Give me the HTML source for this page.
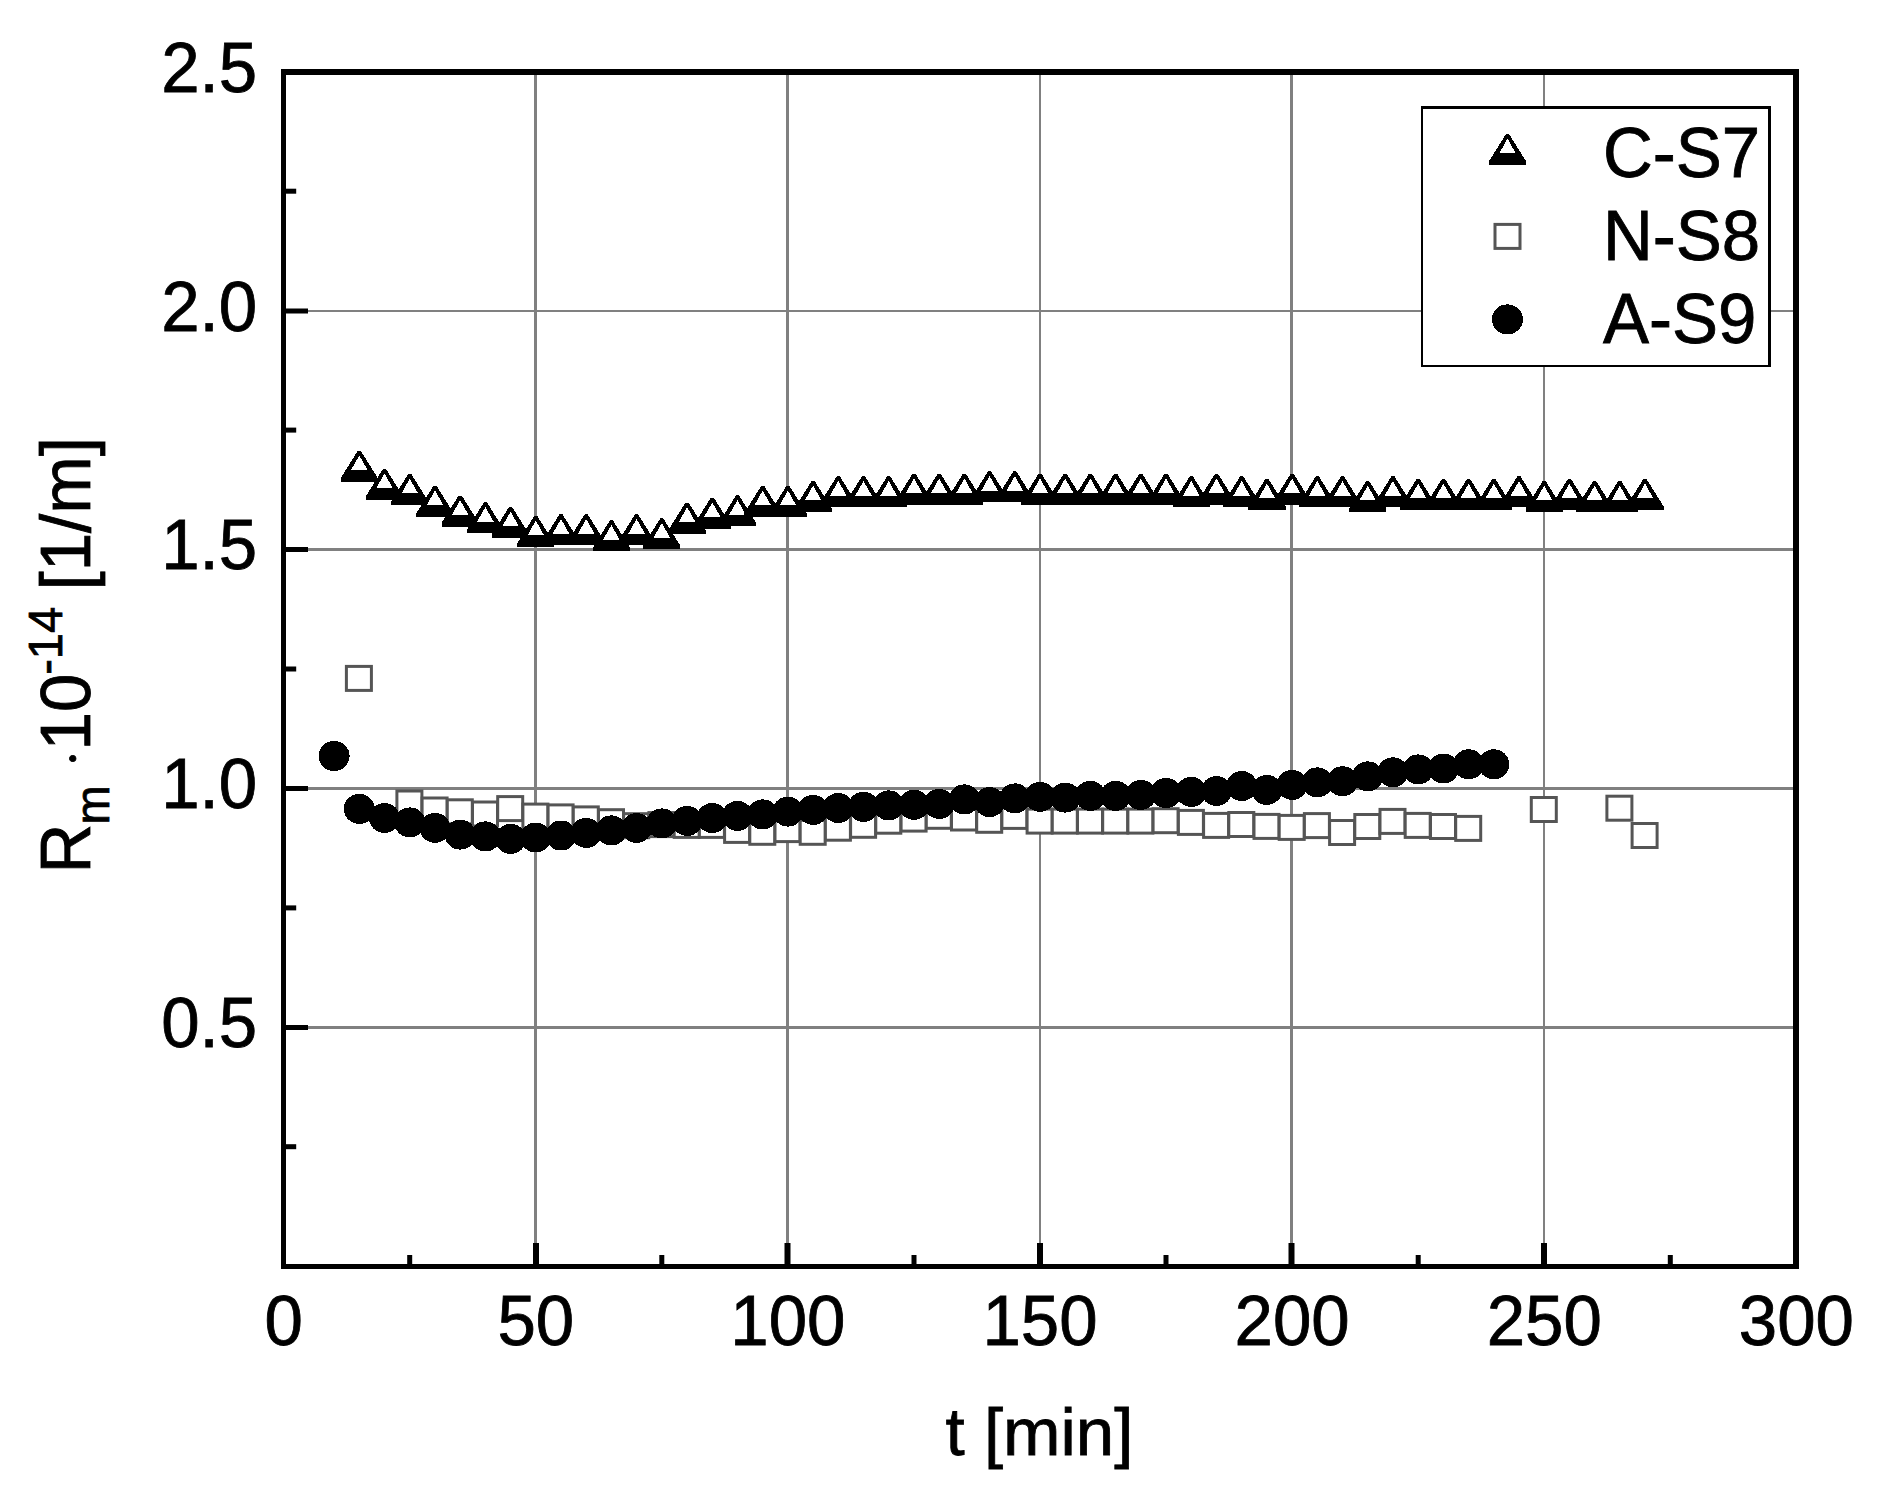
<!DOCTYPE html>
<html lang="en">
<head>
<meta charset="utf-8">
<title>Rm vs t</title>
<style>
html,body{margin:0;padding:0;background:#fff;}
body{width:1885px;height:1493px;overflow:hidden;}
svg{display:block;}
.t text, text{font-family:"Liberation Sans",Arial,Helvetica,sans-serif;font-size:69px;fill:#000;stroke:#000;stroke-width:0.8px;}
text.s,tspan.s{font-size:47px;}
text.d,tspan.d{font-family:"Liberation Serif",serif;font-size:54px;}
.tk{fill:#000;shape-rendering:crispEdges;}
.tw{fill:#fff;shape-rendering:crispEdges;}
.sq{fill:#fff;stroke:#555555;stroke-width:3;}
.ci{fill:#000;shape-rendering:crispEdges;}
</style>
</head>
<body>
<svg width="1885" height="1493" viewBox="0 0 1885 1493">
<rect x="0" y="0" width="1885" height="1493" fill="#fff"/>
<g fill="#808080"><rect x="534" y="72" width="3" height="1194"/><rect x="786" y="72" width="3" height="1194"/><rect x="1039" y="72" width="2" height="1194"/><rect x="1290" y="72" width="3" height="1194"/><rect x="1543" y="72" width="2" height="1194"/><rect x="284" y="1026" width="1512" height="3"/><rect x="284" y="787" width="1512" height="3"/><rect x="284" y="548" width="1512" height="3"/><rect x="284" y="310" width="1512" height="2"/></g>
<g><polygon class="tk" points="357.8,450.8 360.8,450.8 377.9,478.2 377.9,481.8 340.7,481.8 340.7,478.2"/><polygon class="tw" points="359.3,455.5 367.5,470 351.1,470"/><polygon class="tk" points="383,468.9 386,468.9 403.1,496.3 403.1,499.9 365.9,499.9 365.9,496.3"/><polygon class="tw" points="384.5,473.6 392.7,488.1 376.3,488.1"/><polygon class="tk" points="408.2,474 411.2,474 428.4,501.4 428.4,505 391.1,505 391.1,501.4"/><polygon class="tw" points="409.8,478.7 417.9,493.2 401.6,493.2"/><polygon class="tk" points="433.5,485.8 436.5,485.8 453.6,513.2 453.6,516.8 416.4,516.8 416.4,513.2"/><polygon class="tw" points="435,490.5 443.2,505 426.8,505"/><polygon class="tk" points="458.7,495.5 461.7,495.5 478.8,522.9 478.8,526.5 441.6,526.5 441.6,522.9"/><polygon class="tw" points="460.2,500.2 468.4,514.7 452,514.7"/><polygon class="tk" points="483.9,502.3 486.9,502.3 504,529.7 504,533.3 466.8,533.3 466.8,529.7"/><polygon class="tw" points="485.4,507 493.6,521.5 477.2,521.5"/><polygon class="tk" points="509.1,506.9 512.1,506.9 529.2,534.3 529.2,537.9 492,537.9 492,534.3"/><polygon class="tw" points="510.6,511.6 518.8,526.1 502.4,526.1"/><polygon class="tk" points="534.3,516 537.3,516 554.4,543.4 554.4,547 517.2,547 517.2,543.4"/><polygon class="tw" points="535.8,520.7 544,535.2 527.6,535.2"/><polygon class="tk" points="559.5,514.3 562.5,514.3 579.6,541.7 579.6,545.3 542.4,545.3 542.4,541.7"/><polygon class="tw" points="561,519 569.2,533.5 552.8,533.5"/><polygon class="tk" points="584.7,514.3 587.7,514.3 604.8,541.7 604.8,545.3 567.6,545.3 567.6,541.7"/><polygon class="tw" points="586.2,519 594.4,533.5 578,533.5"/><polygon class="tk" points="609.9,520.4 612.9,520.4 630,547.8 630,551.4 592.8,551.4 592.8,547.8"/><polygon class="tw" points="611.4,525.1 619.6,539.6 603.2,539.6"/><polygon class="tk" points="635.1,514.3 638.1,514.3 655.2,541.7 655.2,545.3 618,545.3 618,541.7"/><polygon class="tw" points="636.6,519 644.8,533.5 628.4,533.5"/><polygon class="tk" points="660.3,518.4 663.3,518.4 680.4,545.8 680.4,549.4 643.2,549.4 643.2,545.8"/><polygon class="tw" points="661.8,523.1 670,537.6 653.6,537.6"/><polygon class="tk" points="685.6,502.5 688.6,502.5 705.7,529.9 705.7,533.5 668.5,533.5 668.5,529.9"/><polygon class="tw" points="687.1,507.2 695.3,521.7 678.9,521.7"/><polygon class="tk" points="710.8,497.7 713.8,497.7 730.9,525.1 730.9,528.7 693.7,528.7 693.7,525.1"/><polygon class="tw" points="712.3,502.4 720.5,516.9 704.1,516.9"/><polygon class="tk" points="736,495.4 739,495.4 756.1,522.8 756.1,526.4 718.9,526.4 718.9,522.8"/><polygon class="tw" points="737.5,500.1 745.7,514.6 729.3,514.6"/><polygon class="tk" points="761.2,485.9 764.2,485.9 781.3,513.3 781.3,516.9 744.1,516.9 744.1,513.3"/><polygon class="tw" points="762.7,490.6 770.9,505.1 754.5,505.1"/><polygon class="tk" points="786.4,485.9 789.4,485.9 806.5,513.3 806.5,516.9 769.3,516.9 769.3,513.3"/><polygon class="tw" points="787.9,490.6 796.1,505.1 779.7,505.1"/><polygon class="tk" points="811.6,481 814.6,481 831.7,508.4 831.7,512 794.5,512 794.5,508.4"/><polygon class="tw" points="813.1,485.7 821.3,500.2 804.9,500.2"/><polygon class="tk" points="836.8,476.3 839.8,476.3 856.9,503.7 856.9,507.3 819.7,507.3 819.7,503.7"/><polygon class="tw" points="838.3,481 846.5,495.5 830.1,495.5"/><polygon class="tk" points="862,476.3 865,476.3 882.1,503.7 882.1,507.3 844.9,507.3 844.9,503.7"/><polygon class="tw" points="863.5,481 871.7,495.5 855.3,495.5"/><polygon class="tk" points="887.2,476.3 890.2,476.3 907.3,503.7 907.3,507.3 870.1,507.3 870.1,503.7"/><polygon class="tw" points="888.7,481 896.9,495.5 880.5,495.5"/><polygon class="tk" points="912.5,473.8 915.5,473.8 932.6,501.2 932.6,504.8 895.4,504.8 895.4,501.2"/><polygon class="tw" points="914,478.5 922.2,493 905.8,493"/><polygon class="tk" points="937.7,473.8 940.7,473.8 957.8,501.2 957.8,504.8 920.6,504.8 920.6,501.2"/><polygon class="tw" points="939.2,478.5 947.4,493 931,493"/><polygon class="tk" points="962.9,473.8 965.9,473.8 983,501.2 983,504.8 945.8,504.8 945.8,501.2"/><polygon class="tw" points="964.4,478.5 972.6,493 956.2,493"/><polygon class="tk" points="988.1,471.3 991.1,471.3 1008.2,498.7 1008.2,502.3 971,502.3 971,498.7"/><polygon class="tw" points="989.6,476 997.8,490.5 981.4,490.5"/><polygon class="tk" points="1013.3,471.3 1016.3,471.3 1033.4,498.7 1033.4,502.3 996.2,502.3 996.2,498.7"/><polygon class="tw" points="1014.8,476 1023,490.5 1006.6,490.5"/><polygon class="tk" points="1038.5,473.8 1041.5,473.8 1058.6,501.2 1058.6,504.8 1021.4,504.8 1021.4,501.2"/><polygon class="tw" points="1040,478.5 1048.2,493 1031.8,493"/><polygon class="tk" points="1063.7,473.8 1066.7,473.8 1083.8,501.2 1083.8,504.8 1046.6,504.8 1046.6,501.2"/><polygon class="tw" points="1065.2,478.5 1073.4,493 1057,493"/><polygon class="tk" points="1088.9,473.8 1091.9,473.8 1109,501.2 1109,504.8 1071.8,504.8 1071.8,501.2"/><polygon class="tw" points="1090.4,478.5 1098.6,493 1082.2,493"/><polygon class="tk" points="1114.1,473.8 1117.1,473.8 1134.2,501.2 1134.2,504.8 1097,504.8 1097,501.2"/><polygon class="tw" points="1115.6,478.5 1123.8,493 1107.4,493"/><polygon class="tk" points="1139.3,473.8 1142.3,473.8 1159.4,501.2 1159.4,504.8 1122.2,504.8 1122.2,501.2"/><polygon class="tw" points="1140.8,478.5 1149,493 1132.6,493"/><polygon class="tk" points="1164.5,473.8 1167.5,473.8 1184.6,501.2 1184.6,504.8 1147.5,504.8 1147.5,501.2"/><polygon class="tw" points="1166,478.5 1174.2,493 1157.8,493"/><polygon class="tk" points="1189.8,476.3 1192.8,476.3 1209.9,503.7 1209.9,507.3 1172.7,507.3 1172.7,503.7"/><polygon class="tw" points="1191.3,481 1199.5,495.5 1183.1,495.5"/><polygon class="tk" points="1215,473.8 1218,473.8 1235.1,501.2 1235.1,504.8 1197.9,504.8 1197.9,501.2"/><polygon class="tw" points="1216.5,478.5 1224.7,493 1208.3,493"/><polygon class="tk" points="1240.2,476.3 1243.2,476.3 1260.3,503.7 1260.3,507.3 1223.1,507.3 1223.1,503.7"/><polygon class="tw" points="1241.7,481 1249.9,495.5 1233.5,495.5"/><polygon class="tk" points="1265.4,478.9 1268.4,478.9 1285.5,506.3 1285.5,509.9 1248.3,509.9 1248.3,506.3"/><polygon class="tw" points="1266.9,483.6 1275.1,498.1 1258.7,498.1"/><polygon class="tk" points="1290.6,473.8 1293.6,473.8 1310.7,501.2 1310.7,504.8 1273.5,504.8 1273.5,501.2"/><polygon class="tw" points="1292.1,478.5 1300.3,493 1283.9,493"/><polygon class="tk" points="1315.8,476.3 1318.8,476.3 1335.9,503.7 1335.9,507.3 1298.7,507.3 1298.7,503.7"/><polygon class="tw" points="1317.3,481 1325.5,495.5 1309.1,495.5"/><polygon class="tk" points="1341,476.3 1344,476.3 1361.1,503.7 1361.1,507.3 1323.9,507.3 1323.9,503.7"/><polygon class="tw" points="1342.5,481 1350.7,495.5 1334.3,495.5"/><polygon class="tk" points="1366.2,481 1369.2,481 1386.3,508.4 1386.3,512 1349.1,512 1349.1,508.4"/><polygon class="tw" points="1367.7,485.7 1375.9,500.2 1359.5,500.2"/><polygon class="tk" points="1391.4,476.3 1394.4,476.3 1411.5,503.7 1411.5,507.3 1374.3,507.3 1374.3,503.7"/><polygon class="tw" points="1392.9,481 1401.1,495.5 1384.7,495.5"/><polygon class="tk" points="1416.7,478.9 1419.7,478.9 1436.8,506.3 1436.8,509.9 1399.6,509.9 1399.6,506.3"/><polygon class="tw" points="1418.2,483.6 1426.4,498.1 1410,498.1"/><polygon class="tk" points="1441.9,478.9 1444.9,478.9 1462,506.3 1462,509.9 1424.8,509.9 1424.8,506.3"/><polygon class="tw" points="1443.4,483.6 1451.6,498.1 1435.2,498.1"/><polygon class="tk" points="1467.1,478.9 1470.1,478.9 1487.2,506.3 1487.2,509.9 1450,509.9 1450,506.3"/><polygon class="tw" points="1468.6,483.6 1476.8,498.1 1460.4,498.1"/><polygon class="tk" points="1492.3,478.9 1495.3,478.9 1512.4,506.3 1512.4,509.9 1475.2,509.9 1475.2,506.3"/><polygon class="tw" points="1493.8,483.6 1502,498.1 1485.6,498.1"/><polygon class="tk" points="1517.5,476.3 1520.5,476.3 1537.6,503.7 1537.6,507.3 1500.4,507.3 1500.4,503.7"/><polygon class="tw" points="1519,481 1527.2,495.5 1510.8,495.5"/><polygon class="tk" points="1542.7,481 1545.7,481 1562.8,508.4 1562.8,512 1525.6,512 1525.6,508.4"/><polygon class="tw" points="1544.2,485.7 1552.4,500.2 1536,500.2"/><polygon class="tk" points="1567.9,478.9 1570.9,478.9 1588,506.3 1588,509.9 1550.8,509.9 1550.8,506.3"/><polygon class="tw" points="1569.4,483.6 1577.6,498.1 1561.2,498.1"/><polygon class="tk" points="1593.1,481 1596.1,481 1613.2,508.4 1613.2,512 1576,512 1576,508.4"/><polygon class="tw" points="1594.6,485.7 1602.8,500.2 1586.4,500.2"/><polygon class="tk" points="1618.3,481 1621.3,481 1638.4,508.4 1638.4,512 1601.2,512 1601.2,508.4"/><polygon class="tw" points="1619.8,485.7 1628,500.2 1611.6,500.2"/><polygon class="tk" points="1643.5,478.9 1646.5,478.9 1663.6,506.3 1663.6,509.9 1626.4,509.9 1626.4,506.3"/><polygon class="tw" points="1645,483.6 1653.2,498.1 1636.8,498.1"/></g>
<g><rect class="sq" x="346.4" y="666.4" width="25" height="24"/><rect class="sq" x="396.9" y="791" width="25" height="24"/><rect class="sq" x="422.1" y="798" width="25" height="24"/><rect class="sq" x="447.3" y="799.8" width="25" height="24"/><rect class="sq" x="472.5" y="802" width="25" height="24"/><rect class="sq" x="497.7" y="796.6" width="25" height="24"/><rect class="sq" x="522.9" y="804.1" width="25" height="24"/><rect class="sq" x="548.1" y="804.9" width="25" height="24"/><rect class="sq" x="573.3" y="806.9" width="25" height="24"/><rect class="sq" x="598.5" y="809.7" width="25" height="24"/><rect class="sq" x="623.7" y="813.7" width="25" height="24"/><rect class="sq" x="648.9" y="812.6" width="25" height="24"/><rect class="sq" x="674.2" y="813.4" width="25" height="24"/><rect class="sq" x="699.4" y="813.4" width="25" height="24"/><rect class="sq" x="724.6" y="818.4" width="25" height="24"/><rect class="sq" x="749.8" y="820.3" width="25" height="24"/><rect class="sq" x="775" y="817.6" width="25" height="24"/><rect class="sq" x="800.2" y="820.3" width="25" height="24"/><rect class="sq" x="825.4" y="816.2" width="25" height="24"/><rect class="sq" x="850.6" y="813.3" width="25" height="24"/><rect class="sq" x="875.8" y="809.2" width="25" height="24"/><rect class="sq" x="901.1" y="807.1" width="25" height="24"/><rect class="sq" x="926.3" y="804.3" width="25" height="24"/><rect class="sq" x="951.5" y="806" width="25" height="24"/><rect class="sq" x="976.7" y="808.3" width="25" height="24"/><rect class="sq" x="1001.9" y="804.4" width="25" height="24"/><rect class="sq" x="1027.1" y="809.1" width="25" height="24"/><rect class="sq" x="1052.3" y="809.1" width="25" height="24"/><rect class="sq" x="1077.5" y="809.1" width="25" height="24"/><rect class="sq" x="1102.7" y="809.1" width="25" height="24"/><rect class="sq" x="1127.9" y="809.1" width="25" height="24"/><rect class="sq" x="1153.1" y="808.7" width="25" height="24"/><rect class="sq" x="1178.4" y="810.4" width="25" height="24"/><rect class="sq" x="1203.6" y="813.4" width="25" height="24"/><rect class="sq" x="1228.8" y="812.5" width="25" height="24"/><rect class="sq" x="1254" y="814.4" width="25" height="24"/><rect class="sq" x="1279.2" y="815.4" width="25" height="24"/><rect class="sq" x="1304.4" y="813.6" width="25" height="24"/><rect class="sq" x="1329.6" y="820.5" width="25" height="24"/><rect class="sq" x="1354.8" y="814.5" width="25" height="24"/><rect class="sq" x="1380" y="809.4" width="25" height="24"/><rect class="sq" x="1405.2" y="813.4" width="25" height="24"/><rect class="sq" x="1430.5" y="814.5" width="25" height="24"/><rect class="sq" x="1455.7" y="816.4" width="25" height="24"/><rect class="sq" x="1531.3" y="797.5" width="25" height="24"/><rect class="sq" x="1606.9" y="796.2" width="25" height="24"/><rect class="sq" x="1632.1" y="823.5" width="25" height="24"/></g>
<g><ellipse class="ci" cx="334.1" cy="756" rx="15.5" ry="15"/><ellipse class="ci" cx="359.3" cy="808.9" rx="15.5" ry="15"/><ellipse class="ci" cx="384.5" cy="818" rx="15.5" ry="15"/><ellipse class="ci" cx="409.8" cy="822.4" rx="15.5" ry="15"/><ellipse class="ci" cx="435" cy="827.9" rx="15.5" ry="15"/><ellipse class="ci" cx="460.2" cy="834.6" rx="15.5" ry="15"/><ellipse class="ci" cx="485.4" cy="836.4" rx="15.5" ry="15"/><ellipse class="ci" cx="510.6" cy="838.9" rx="15.5" ry="15"/><ellipse class="ci" cx="535.8" cy="837.5" rx="15.5" ry="15"/><ellipse class="ci" cx="561" cy="835.5" rx="15.5" ry="15"/><ellipse class="ci" cx="586.2" cy="832.9" rx="15.5" ry="15"/><ellipse class="ci" cx="611.4" cy="830.4" rx="15.5" ry="15"/><ellipse class="ci" cx="636.6" cy="828" rx="15.5" ry="15"/><ellipse class="ci" cx="661.8" cy="823.4" rx="15.5" ry="15"/><ellipse class="ci" cx="687.1" cy="820.9" rx="15.5" ry="15"/><ellipse class="ci" cx="712.3" cy="818" rx="15.5" ry="15"/><ellipse class="ci" cx="737.5" cy="815.9" rx="15.5" ry="15"/><ellipse class="ci" cx="762.7" cy="814.4" rx="15.5" ry="15"/><ellipse class="ci" cx="787.9" cy="811.6" rx="15.5" ry="15"/><ellipse class="ci" cx="813.1" cy="809.9" rx="15.5" ry="15"/><ellipse class="ci" cx="838.3" cy="808" rx="15.5" ry="15"/><ellipse class="ci" cx="863.5" cy="806.8" rx="15.5" ry="15"/><ellipse class="ci" cx="888.7" cy="805.4" rx="15.5" ry="15"/><ellipse class="ci" cx="914" cy="804.8" rx="15.5" ry="15"/><ellipse class="ci" cx="939.2" cy="803.9" rx="15.5" ry="15"/><ellipse class="ci" cx="964.4" cy="799.4" rx="15.5" ry="15"/><ellipse class="ci" cx="989.6" cy="802.1" rx="15.5" ry="15"/><ellipse class="ci" cx="1014.8" cy="798.4" rx="15.5" ry="15"/><ellipse class="ci" cx="1040" cy="796.9" rx="15.5" ry="15"/><ellipse class="ci" cx="1065.2" cy="797.6" rx="15.5" ry="15"/><ellipse class="ci" cx="1090.4" cy="795.9" rx="15.5" ry="15"/><ellipse class="ci" cx="1115.6" cy="795.9" rx="15.5" ry="15"/><ellipse class="ci" cx="1140.8" cy="794.9" rx="15.5" ry="15"/><ellipse class="ci" cx="1166" cy="793" rx="15.5" ry="15"/><ellipse class="ci" cx="1191.3" cy="791.9" rx="15.5" ry="15"/><ellipse class="ci" cx="1216.5" cy="791" rx="15.5" ry="15"/><ellipse class="ci" cx="1241.7" cy="786" rx="15.5" ry="15"/><ellipse class="ci" cx="1266.9" cy="789.9" rx="15.5" ry="15"/><ellipse class="ci" cx="1292.1" cy="784.9" rx="15.5" ry="15"/><ellipse class="ci" cx="1317.3" cy="782.4" rx="15.5" ry="15"/><ellipse class="ci" cx="1342.5" cy="781.3" rx="15.5" ry="15"/><ellipse class="ci" cx="1367.7" cy="776.3" rx="15.5" ry="15"/><ellipse class="ci" cx="1392.9" cy="772.3" rx="15.5" ry="15"/><ellipse class="ci" cx="1418.2" cy="769.4" rx="15.5" ry="15"/><ellipse class="ci" cx="1443.4" cy="768.5" rx="15.5" ry="15"/><ellipse class="ci" cx="1468.6" cy="764.3" rx="15.5" ry="15"/><ellipse class="ci" cx="1493.8" cy="764.3" rx="15.5" ry="15"/></g>
<g fill="#000"><rect x="281" y="69" width="5" height="1200"/><rect x="281" y="1264" width="1518" height="5"/><rect x="281" y="69" width="1518" height="6"/><rect x="1793" y="69" width="6" height="1200"/><rect x="284" y="1025" width="24" height="5"/><rect x="284" y="786" width="24" height="5"/><rect x="284" y="547" width="24" height="5"/><rect x="284" y="308.5" width="24" height="5"/><rect x="284" y="1144.2" width="12.2" height="5"/><rect x="284" y="905.4" width="12.2" height="5"/><rect x="284" y="666.5" width="12.2" height="5"/><rect x="284" y="427.6" width="12.2" height="5"/><rect x="284" y="188.7" width="12.2" height="5"/><rect x="533" y="1243" width="6" height="23"/><rect x="784.5" y="1243" width="6" height="23"/><rect x="1037" y="1243" width="6" height="23"/><rect x="1288.5" y="1243" width="6" height="23"/><rect x="1541" y="1243" width="6" height="23"/><rect x="407.2" y="1255" width="5" height="11"/><rect x="659.3" y="1255" width="5" height="11"/><rect x="911.5" y="1255" width="5" height="11"/><rect x="1163.5" y="1255" width="5" height="11"/><rect x="1415.7" y="1255" width="5" height="11"/><rect x="1667.8" y="1255" width="5" height="11"/></g>
<g class="t"><text text-anchor="middle" transform="translate(283.7,1345.3) scale(1,1.01)">0</text><text text-anchor="middle" transform="translate(535.8,1345.3) scale(1,1.01)">50</text><text text-anchor="middle" transform="translate(787.9,1345.3) scale(1,1.01)">100</text><text text-anchor="middle" transform="translate(1040,1345.3) scale(1,1.01)">150</text><text text-anchor="middle" transform="translate(1292.1,1345.3) scale(1,1.01)">200</text><text text-anchor="middle" transform="translate(1544.2,1345.3) scale(1,1.01)">250</text><text text-anchor="middle" transform="translate(1796.3,1345.3) scale(1,1.01)">300</text><text text-anchor="end" transform="translate(257.1,1047.2) scale(1,1.01)">0.5</text><text text-anchor="end" transform="translate(257.1,808.3) scale(1,1.01)">1.0</text><text text-anchor="end" transform="translate(257.1,569.4) scale(1,1.01)">1.5</text><text text-anchor="end" transform="translate(257.1,330.5) scale(1,1.01)">2.0</text><text text-anchor="end" transform="translate(257.1,91.6) scale(1,1.01)">2.5</text><text text-anchor="middle" transform="translate(1039.5,1454.9) scale(1,0.966)">t [min]</text></g>
<text transform="translate(90,873.5) rotate(-90) scale(1,1.02)"><tspan x="0" y="0">R</tspan><tspan class="s" x="49.1" y="18.6">m</tspan> <tspan class="d" x="114.9" y="0.7" text-anchor="middle">·</tspan><tspan x="123.1" y="0">10</tspan><tspan class="s" x="198.7" y="-27.4">-14</tspan> <tspan x="283" y="0">[1/m]</tspan></text>
<g><rect x="1421" y="106" width="350" height="261" fill="#000"/><rect x="1423" y="109" width="345" height="256" fill="#fff"/><polygon class="tk" points="1506,134 1509,134 1526.1,161.4 1526.1,165 1488.9,165 1488.9,161.4"/><polygon class="tw" points="1507.5,138.7 1515.7,153.2 1499.3,153.2"/><rect class="sq" x="1495" y="224.4" width="25" height="24"/><ellipse class="ci" cx="1507.4" cy="319.4" rx="15.5" ry="15"/><g class="t"><text transform="translate(1603,177.2) scale(1,1.02)">C-S7</text><text transform="translate(1603,260.2) scale(1,1.02)">N-S8</text><text transform="translate(1603,343) scale(1,1.02)">A-S9</text></g></g>
</svg>
</body>
</html>
